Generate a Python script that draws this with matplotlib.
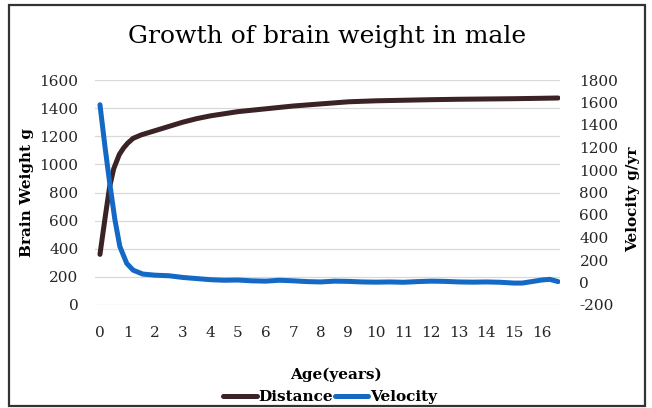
import matplotlib
matplotlib.use('Agg')
import matplotlib.pyplot as plt
from matplotlib.patches import Rectangle

# ---------------------------------------------
# data
dist_age = [0, 0.2, 0.35, 0.5, 0.7, 0.85, 1.0, 1.2, 1.5, 2, 2.5, 3, 3.5, 4, 5, 6,
            7, 8, 9, 10, 11, 12, 13, 14, 15, 16, 16.6]
distance = [360, 640, 840, 970, 1070, 1115, 1150, 1185, 1210, 1240, 1270, 1300, 1325,
            1345, 1375, 1395, 1415, 1430, 1445, 1452, 1456, 1460, 1463, 1465, 1467,
            1470, 1472]

vel_age = [0, 0.18, 0.36, 0.54, 0.72, 0.97, 1.2, 1.55, 2, 2.5, 3, 3.5, 4, 4.5, 5, 5.5,
           6, 6.5, 7, 7.5, 8, 8.5, 9, 9.5, 10, 10.5, 11, 11.5, 12, 12.5, 13, 13.5, 14,
           14.5, 15, 15.3, 15.7, 16, 16.3, 16.6]
velocity = [1580, 1210, 870, 560, 320, 170, 110, 75, 65, 60, 45, 35, 25, 20, 22, 15,
            12, 20, 15, 8, 5, 12, 10, 5, 3, 5, 2, 8, 12, 10, 5, 3, 5, 2, -5, -5, 10,
            22, 28, 8]

xticks = list(range(0, 17))
left_ticks = list(range(0, 1601, 200))
right_ticks = list(range(-200, 1801, 200))

plt.rcParams['font.family'] = ['DejaVu Serif']
plt.rcParams['axes.unicode_minus'] = False

# ---------------------------------------------
fig = plt.figure(figsize=(6.52, 4.08), dpi=100)
ax = fig.add_axes([95/652, 1 - 305/408, 465/652, 225/408])
ax2 = ax.twinx()

ax.plot(dist_age, distance, color='#3b2225', linewidth=3.6, solid_capstyle='round',
        label='Distance', zorder=3)
ax2.plot(vel_age, velocity, color='#1469c4', linewidth=3.6, solid_capstyle='round',
         label='Velocity', zorder=3)

ax.set_xlim(-0.18, 16.67)
ax.set_ylim(0, 1600)
ax2.set_ylim(-200, 1800)
ax.set_xticks(xticks)
ax.set_yticks(left_ticks)
ax2.set_yticks(right_ticks)

ax.grid(axis='y', color='#d9d9d9', linewidth=0.9)
ax.set_axisbelow(True)
for a in (ax, ax2):
    for s in a.spines.values():
        s.set_visible(False)

ax.tick_params(axis='x', length=0, pad=15, labelsize=11, colors='#262626')
ax.tick_params(axis='y', length=0, pad=12, labelsize=11, colors='#262626')
ax2.tick_params(axis='y', length=0, pad=14, labelsize=11, colors='#262626')

ax.set_ylabel('Brain Weight g', fontsize=11, fontweight='bold')
ax.yaxis.set_label_coords(-0.131, 0.5)
ax2.set_ylabel('Velocity g/yr', fontsize=11, fontweight='bold', rotation=90)
ax2.yaxis.set_label_coords(1.142, 0.47)

fig.text(327/652, 1 - 37/408, 'Growth of brain weight in male', ha='center',
         va='center', fontsize=18)
fig.text(336/652, 1 - 375/408, 'Age(years)', ha='center', va='center',
         fontsize=11, fontweight='bold')

h1, l1 = ax.get_legend_handles_labels()
h2, l2 = ax2.get_legend_handles_labels()
fig.legend(h1 + h2, l1 + l2, loc='center', bbox_to_anchor=(330/652, 1 - 397/408),
           ncol=2, frameon=False, handlelength=2.2, handletextpad=0.1,
           columnspacing=0.1, borderaxespad=0, prop={'size': 11, 'weight': 'bold'})

fig.patches.append(Rectangle((9/652, 2/408), 636/652, 401/408,
                             transform=fig.transFigure, fill=False,
                             edgecolor='#333333', linewidth=1.6))

fig.savefig('out.png', dpi=100)
